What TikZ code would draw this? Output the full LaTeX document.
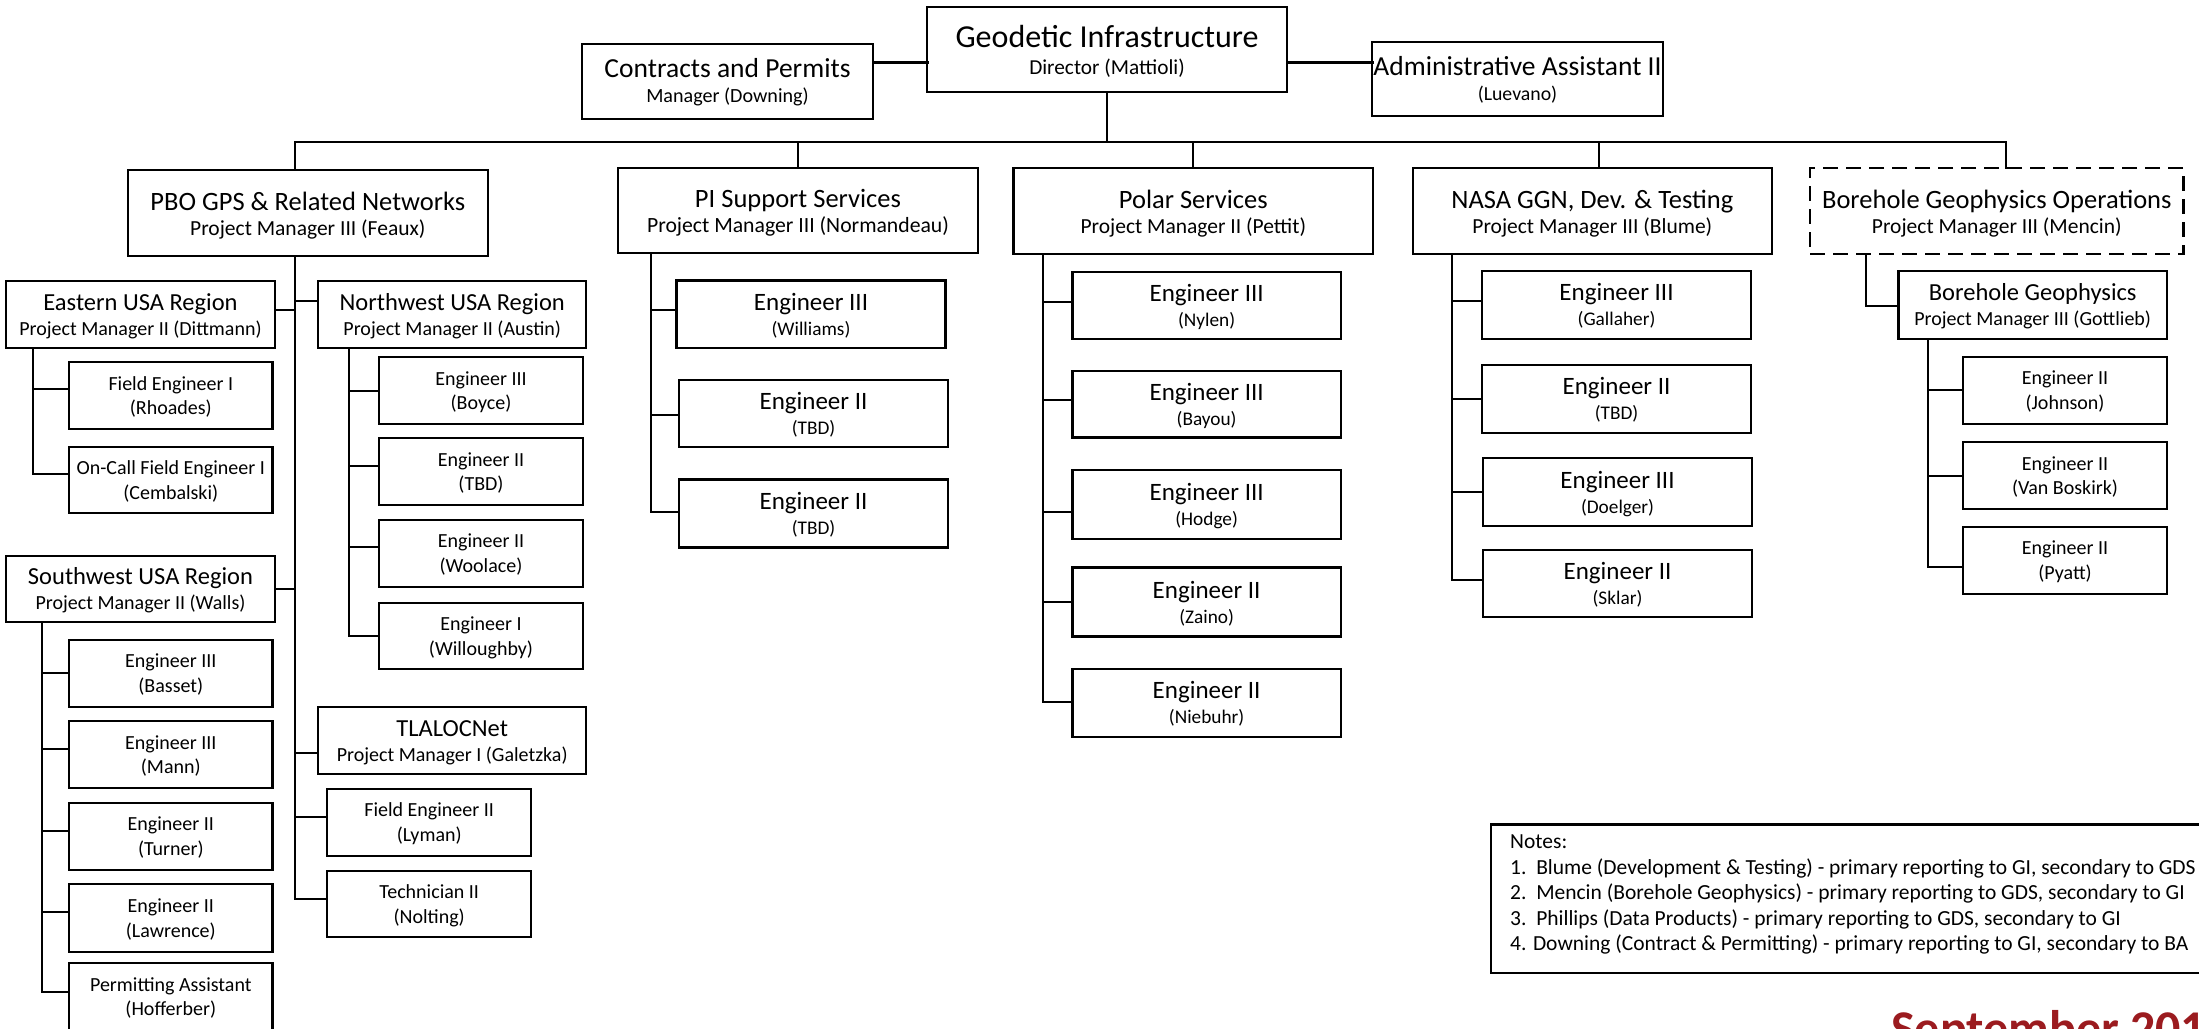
\documentclass[tikz,border=0pt]{standalone}
\usepackage{fontspec}
\setmainfont{Carlito}
\usetikzlibrary{calc}
\definecolor{sepred}{HTML}{9B1B1F}
\newcommand\twoline[4]{{\fontsize{#1}{#1}\selectfont #2}\\{\fontsize{#3}{#3}\selectfont #4}}
\newcommand\obox[7]{\node[#6, minimum width=#4pt, minimum height=#5pt] (#1) at (#2,#3) {#7};}
\newcommand\conW[3]{\path ($(#1.west)+(0,#2)$) coordinate (#1-c); \draw[ln] (#1-c) -- (#1-c -| #3);}
\newcommand\conE[3]{\path ($(#1.east)+(0,#2)$) coordinate (#1-c); \draw[ln] (#1-c) -- (#1-c -| #3);}
\tikzset{
  ln/.style={line width=2pt, line cap=rect},
  bx/.style={draw, line width=2.2pt, inner sep=0pt, outer sep=0pt, align=center,
    font=\fontsize{20}{25}\selectfont, text height=46pt, text depth=4pt},
  bxtwo/.style={bx, text height=48pt},
  bxs/.style={bx, font=\fontsize{20}{24.5}\selectfont, text height=42pt},
  dashbox/.style={dash pattern=on 15pt off 8pt},
}
\begin{document}
\begin{tikzpicture}[x=1pt,y=-1pt]
\useasboundingbox (0,0) rectangle (2199,1028);
\clip (0,0) rectangle (2199,1028);
% top row
\obox{gi}{1107}{49.5}{360}{85}{bx,font=\fontsize{20}{27}\selectfont,text height=53pt}{\twoline{32}{Geodetic Infrastructure}{21.3}{Director (Mattioli)}}
\obox{cp}{727.5}{81.5}{291}{75}{bx}{\twoline{27.5}{Contracts and Permits}{20.1}{Manager (Downing)}}
\obox{aa}{1517.5}{79}{291}{74}{bx}{\twoline{27.5}{Administrative Assistant II}{19.8}{(Luevano)}}
\coordinate (ty) at (0,62);
\draw[ln,line width=3pt] (cp.east |- ty) -- (gi.west |- ty);
\draw[ln,line width=3pt] (gi.east |- ty) -- (aa.west |- ty);
% level 2
\obox{pbo}{307.8}{213}{359.6}{86}{bxtwo}{\twoline{26.5}{PBO GPS \& Related Networks}{21.5}{Project Manager III (Feaux)}}
\obox{pis}{798}{210.5}{360}{85}{bxtwo}{\twoline{26.5}{PI Support Services}{21.7}{Project Manager III (Normandeau)}}
\obox{pol}{1193.3}{211}{359.5}{86}{bxtwo}{\twoline{26.5}{Polar Services}{21.5}{Project Manager II (Pettit)}}
\obox{nasa}{1592.3}{211}{359.4}{86}{bxtwo}{\twoline{26.5}{NASA GGN, Dev. \& Testing}{21.5}{Project Manager III (Blume)}}
\obox{bho}{1996.8}{211}{373.5}{86}{bxtwo,dashbox}{\twoline{26.5}{Borehole Geophysics Operations}{21.5}{Project Manager III (Mencin)}}
% bus
\coordinate (busy) at (0,142);
\coordinate (b1) at (295,142);
\coordinate (b4) at (1599,142);
\coordinate (b5) at (2005.6,142);
\draw[ln] (gi.south) -- (gi.south |- busy);
\draw[ln] (b1) -- (b5);
\draw[ln] (b1) -- (b1 |- pbo.north);
\draw[ln] (pis.north |- busy) -- (pis.north);
\draw[ln] (pol.north |- busy) -- (pol.north);
\draw[ln] (b4) -- (b4 |- nasa.north);
\draw[ln] (b5) -- (b5 |- bho.north);
% PBO group
\obox{eus}{140.5}{314.3}{269}{66.7}{bx}{\twoline{24.5}{Eastern USA Region}{20}{Project Manager II (Dittmann)}}
\obox{fe1}{170.8}{395.7}{203.5}{66.7}{bxs}{\twoline{20}{Field Engineer I}{20}{(Rhoades)}}
\obox{oc}{170.8}{480}{203.5}{66.6}{bxs}{\twoline{20}{On-Call Field Engineer I}{20}{(Cembalski)}}
\obox{swus}{140.5}{588.7}{269}{66}{bx}{\twoline{24.5}{Southwest USA Region}{20}{Project Manager II (Walls)}}
\obox{bas}{170.8}{673.3}{203.5}{66.7}{bxs}{\twoline{20}{Engineer III}{20}{(Basset)}}
\obox{mann}{170.8}{754.7}{203.5}{67.3}{bxs}{\twoline{20}{Engineer III}{20}{(Mann)}}
\obox{turn}{170.8}{836.3}{203.5}{67.3}{bxs}{\twoline{20}{Engineer II}{20}{(Turner)}}
\obox{lawr}{170.8}{918}{203.5}{67.4}{bxs}{\twoline{20}{Engineer II}{20}{(Lawrence)}}
\obox{perm}{170.8}{996.8}{203.5}{67}{bxs}{\twoline{20}{Permitting Assistant}{20}{(Hofferber)}}
\obox{nwus}{452.2}{314.3}{268.3}{66.7}{bx}{\twoline{24.5}{Northwest USA Region}{20}{Project Manager II (Austin)}}
\obox{boyce}{481}{390.7}{204}{66.7}{bxs}{\twoline{20}{Engineer III}{20}{(Boyce)}}
\obox{nwtbd}{481}{471.7}{204}{66.7}{bxs}{\twoline{20}{Engineer II}{20}{(TBD)}}
\obox{wool}{481}{553.3}{204}{66.7}{bxs}{\twoline{20}{Engineer II}{20}{(Woolace)}}
\obox{willo}{481}{636}{204}{66.6}{bxs}{\twoline{20}{Engineer I}{20}{(Willoughby)}}
\obox{tlal}{452.2}{740.3}{268.3}{67.3}{bx}{\twoline{24.5}{TLALOCNet}{20}{Project Manager I (Galetzka)}}
\obox{lyman}{429.2}{822.3}{204}{66.7}{bxs}{\twoline{20}{Field Engineer II}{20}{(Lyman)}}
\obox{nolt}{429.2}{904}{204}{66.6}{bxs}{\twoline{20}{Technician II}{20}{(Nolting)}}
\coordinate (tP) at (295,0);
\conE{eus}{-4.3}{tP}
\conW{nwus}{-13.6}{tP}
\conE{swus}{0}{tP}
\conW{tlal}{13}{tP}
\conW{lyman}{-5.6}{tP}
\conW{nolt}{-5}{tP}
\draw[ln] (tP |- pbo.south) -- (tP |- nolt-c);
\coordinate (tE) at (32.5,0);
\conW{fe1}{-6.4}{tE}
\conW{oc}{-5.7}{tE}
\draw[ln] (tE |- eus.south) -- (tE |- oc-c);
\coordinate (tS) at (42.1,0);
\conW{bas}{0}{tS}
\conW{mann}{-5.7}{tS}
\conW{turn}{-5.6}{tS}
\conW{lawr}{-6}{tS}
\conW{perm}{-5.1}{tS}
\draw[ln] (tS |- swus.south) -- (tS |- perm-c);
\coordinate (tN) at (348.6,0);
\conW{boyce}{0}{tN}
\conW{nwtbd}{-5.7}{tN}
\conW{wool}{-6}{tN}
\conW{willo}{0}{tN}
\draw[ln] (tN |- nwus.south) -- (tN |- willo-c);
% PI group
\obox{wil}{811}{314.2}{269}{67.5}{bx}{\twoline{25}{Engineer III}{19.3}{(Williams)}}
\obox{pit1}{813.5}{413.3}{269}{66.6}{bx}{\twoline{25}{Engineer II}{19.3}{(TBD)}}
\obox{pit2}{813.5}{513.5}{269}{68}{bx}{\twoline{25}{Engineer II}{19.3}{(TBD)}}
\coordinate (tI) at (651,0);
\conW{wil}{-4.2}{tI}
\conW{pit1}{1.9}{tI}
\conW{pit2}{-1.1}{tI}
\draw[ln] (tI |- pis.south) -- (tI |- pit2-c);
% Polar group
\obox{nylen}{1206.6}{305.2}{268.4}{67}{bx}{\twoline{25}{Engineer III}{19.3}{(Nylen)}}
\obox{bayou}{1206.6}{404.1}{268.4}{66.6}{bx}{\twoline{25}{Engineer III}{19.3}{(Bayou)}}
\obox{hodge}{1206.6}{504.7}{268.4}{69}{bx}{\twoline{25}{Engineer III}{19.3}{(Hodge)}}
\obox{zaino}{1206.6}{602}{268.4}{69}{bx}{\twoline{25}{Engineer II}{19.3}{(Zaino)}}
\obox{nieb}{1206.6}{702.6}{268.4}{68}{bx}{\twoline{25}{Engineer II}{19.3}{(Niebuhr)}}
\coordinate (tL) at (1043.4,0);
\conW{nylen}{-3.7}{tL}
\conW{bayou}{-4.6}{tL}
\conW{hodge}{7.3}{tL}
\conW{zaino}{0}{tL}
\conW{nieb}{-0.4}{tL}
\draw[ln] (tL |- pol.south) -- (tL |- nieb-c);
% NASA group
\obox{gall}{1616.5}{304.7}{269}{68}{bx}{\twoline{25}{Engineer III}{19.3}{(Gallaher)}}
\obox{ntbd}{1616.5}{398.8}{269}{67.7}{bx}{\twoline{25}{Engineer II}{19.3}{(TBD)}}
\obox{doel}{1617.5}{492}{269}{67.4}{bx}{\twoline{25}{Engineer III}{19.3}{(Doelger)}}
\obox{sklar}{1617.5}{583.5}{269}{67.6}{bx}{\twoline{25}{Engineer II}{19.3}{(Sklar)}}
\coordinate (tA) at (1451.5,0);
\conW{gall}{-3.7}{tA}
\conW{ntbd}{0}{tA}
\conW{doel}{0}{tA}
\conW{sklar}{-3.5}{tA}
\draw[ln] (tA |- nasa.south) -- (tA |- sklar-c);
% Borehole group
\obox{bg}{2032.7}{304.8}{268.6}{68.3}{bx}{\twoline{24.5}{Borehole Geophysics}{20}{Project Manager III (Gottlieb)}}
\coordinate (tB) at (1865.8,0);
\conW{bg}{0.9}{tB}
\draw[ln] (tB |- bho.south) -- (tB |- bg-c);
\obox{john}{2065}{390.3}{204}{67.3}{bxs}{\twoline{20}{Engineer II}{20}{(Johnson)}}
\obox{vanb}{2065}{475.5}{204}{67}{bxs}{\twoline{20}{Engineer II}{20}{(Van Boskirk)}}
\obox{pyatt}{2065}{560.3}{204}{67.3}{bxs}{\twoline{20}{Engineer II}{20}{(Pyatt)}}
\coordinate (tG) at (1928,0);
\conW{john}{0}{tG}
\conW{vanb}{0}{tG}
\conW{pyatt}{6.4}{tG}
\draw[ln] (tG |- bg.south) -- (tG |- pyatt-c);
% notes
\node[draw, line width=2.2pt, anchor=north west, minimum width=800pt, minimum height=148.4pt, inner sep=0pt] (notes) at (1490,823.3) {};
\node[anchor=north west, align=left, inner sep=0pt, font=\fontsize{21.5}{25.5}\selectfont] (ntext) at (1510,834.5)
 {Notes:\\1.\ \ Blume (Development \& Testing) - primary reporting to GI, secondary to GDS\\
  2.\ \ Mencin (Borehole Geophysics) - primary reporting to GDS, secondary to GI\\
  3.\ \ Phillips (Data Products) - primary reporting to GDS, secondary to GI\\
  4. Downing (Contract \& Permitting) - primary reporting to GI, secondary to BA};
\node[anchor=base west, inner sep=0pt, text=sepred, font=\bfseries\fontsize{50}{50}\selectfont] (date) at (1891,1045) {September 201};
\end{tikzpicture}
\end{document}
